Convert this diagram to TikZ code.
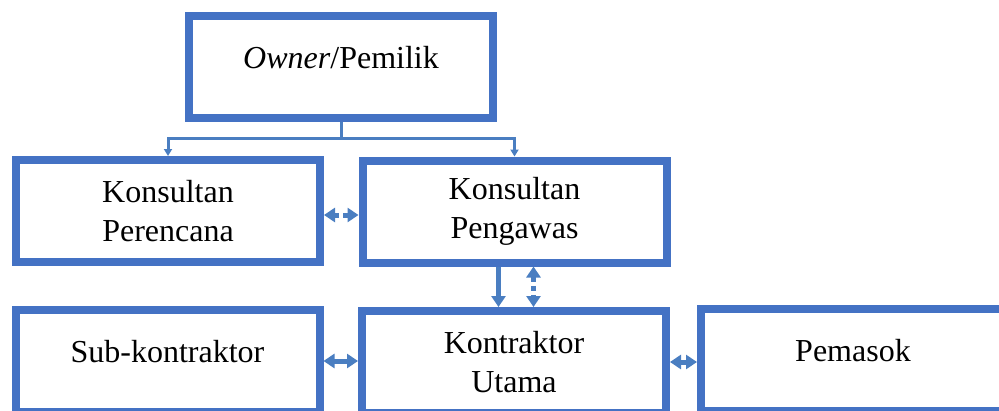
\documentclass[tikz,border=0pt]{standalone}
\usepackage{fontspec}
\setmainfont{Liberation Serif}
\usetikzlibrary{arrows.meta}
\definecolor{boxblue}{RGB}{68,114,196}
\definecolor{linkblue}{RGB}{74,126,193}
\tikzset{>={Triangle[length=11pt,width=14pt]}}
\tikzset{orgbox/.style={draw=boxblue, line width=8pt, fill=white,
  minimum width=304pt, minimum height=102pt, inner sep=0pt,
  align=center, font=\fontsize{32}{39}\selectfont}}
\tikzset{oneline/.style={text height=22pt, text depth=20pt}}
\tikzset{link/.style={linkblue, line width=3pt}}
\tikzset{flow/.style={linkblue, line width=5pt}}
\tikzset{dotflow/.style={flow, dash pattern=on 5pt off 4pt}}

\begin{document}
\begin{tikzpicture}[x=1pt, y=-1pt]
    \useasboundingbox (0, 0) rectangle (999, 410);
    % boxes
    \node[orgbox, oneline] (owner) at (341, 67) {\textit{Owner}/Pemilik};
    \node[orgbox] (rencana) at (168, 211) {Konsultan\\Perencana};
    \node[orgbox] (awas) at (514.5, 211.5) {Konsultan\\Pengawas};
    \node[orgbox, oneline] (sub) at (167.5, 361) {Sub-kontraktor};
    \node[orgbox] (utama) at (514, 362) {Kontraktor\\Utama};
    \node[orgbox, oneline] (pasok) at (853, 360) {Pemasok};
    % owner to consultants
    \coordinate (split) at (341, 138);
    \draw[link] (owner.south) -- (split);
    \draw[link, -{Triangle[length=7pt,width=8pt]}] (split) -| (rencana.north);
    \draw[link, -{Triangle[length=7pt,width=8pt]}] (split) -| (awas.north);
    % between boxes
    \draw[dotflow, <->] ([yshift=-4pt]rencana.east) -- ([yshift=-4pt]rencana.east -| awas.west);
    \draw[flow, ->] ([xshift=-16pt]awas.south) -- ([xshift=-16pt]awas.south |- utama.north);
    \draw[dotflow, <->] ([xshift=19pt]awas.south) -- ([xshift=19pt]awas.south |- utama.north);
    \draw[flow, <->] (sub.east) -- (sub.east -| utama.west);
    \draw[flow, <->] (utama.east) -- (utama.east -| pasok.west);
\end{tikzpicture}
\end{document}
